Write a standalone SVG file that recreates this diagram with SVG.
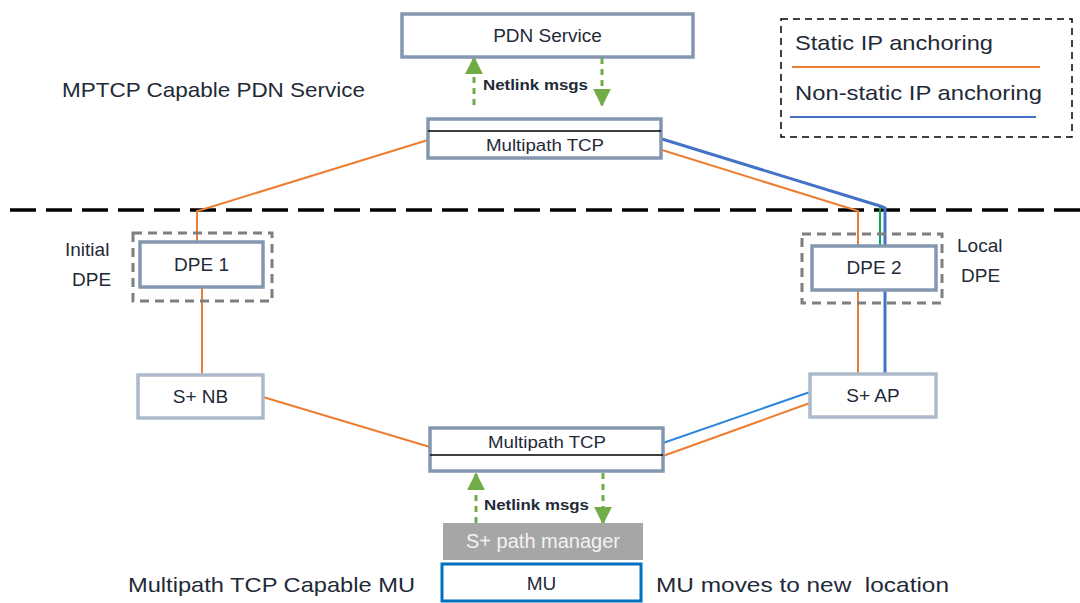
<svg xmlns="http://www.w3.org/2000/svg" width="1080" height="603" viewBox="0 0 1080 603">
<style>
text{font-family:"Liberation Sans",Arial,sans-serif;fill:#1f2a38}
.node{fill:#fff;stroke:#8497b0;stroke-width:3.5}
.light{fill:#fff;stroke:#adb9ca;stroke-width:3.5}
.dash{fill:none;stroke:#7f7f7f;stroke-width:3;stroke-dasharray:9 6}
.or{stroke:#ed7d31;stroke-width:2;fill:none}
.bl{stroke:#4472c4;stroke-width:3;fill:none}
.bl2{stroke:#2e86de;stroke-width:2;fill:none}
.gr{stroke:#70ad47;stroke-width:3;stroke-dasharray:6 5;fill:none}
.lbl{font-size:19px}
.big{font-size:21px}
.small{font-size:15px;font-weight:bold}
.mp{font-size:16px}
</style>
<defs>
<marker id="ah" viewBox="0 0 10 10" refX="9" refY="5" markerWidth="6" markerHeight="6" orient="auto" markerUnits="strokeWidth">
<path d="M0,0 L10,5 L0,10 Z" fill="#70ad47"/>
</marker>
</defs>
<rect width="1080" height="603" fill="#fff"/>

<g id="connectors">
<line x1="10" y1="210" x2="1080" y2="210" stroke="#000" stroke-width="3.5" stroke-dasharray="26 10"/>
<polyline class="or" points="197,242 197,211 201,210 428,140"/>
<line class="or" x1="202" y1="287" x2="202" y2="375"/>
<line class="or" x1="263" y1="397" x2="430" y2="447"/>
<polyline class="or" points="662,150 855,210 858,211 858,374"/>
<polyline class="bl" points="662,139 880,206 885,208 885,374"/>
<line x1="880" y1="207" x2="880" y2="246" stroke="#00b050" stroke-width="2"/>
<line class="bl2" x1="663" y1="443" x2="810" y2="392"/>
<line class="or" x1="663" y1="456" x2="810" y2="403"/>
<line class="gr" x1="474" y1="105" x2="474" y2="58" marker-end="url(#ah)"/>
<line class="gr" x1="602" y1="58" x2="602" y2="105" marker-end="url(#ah)"/>
<line class="gr" x1="476" y1="523" x2="476" y2="474" marker-end="url(#ah)"/>
<line class="gr" x1="603" y1="473" x2="603" y2="523" marker-end="url(#ah)"/>
<text class="small" x="483" y="90" textLength="105" lengthAdjust="spacingAndGlyphs">Netlink msgs</text>
<text class="small" x="484" y="510" textLength="105" lengthAdjust="spacingAndGlyphs">Netlink msgs</text>
</g>

<g id="pdn-service">
<rect class="node" x="402" y="14" width="291" height="43"/>
<text class="lbl" x="547.5" y="42" text-anchor="middle">PDN Service</text>
</g>

<g id="mptcp-top">
<rect class="node" x="428" y="119" width="233" height="39"/>
<line x1="428" y1="131" x2="661" y2="131" stroke="#000" stroke-width="1.5"/>
<text class="mp" x="486" y="151" textLength="118" lengthAdjust="spacingAndGlyphs">Multipath TCP</text>
</g>

<g id="dpe1">
<rect class="dash" x="133" y="233" width="139" height="68"/>
<rect class="node" x="140" y="242" width="123" height="45"/>
<text class="lbl" x="201.5" y="271" text-anchor="middle">DPE 1</text>
</g>

<g id="dpe2">
<rect class="dash" x="802" y="234" width="140" height="69"/>
<rect class="node" x="812" y="246" width="124" height="44"/>
<text class="lbl" x="874" y="274" text-anchor="middle">DPE 2</text>
</g>

<g id="snb">
<rect class="light" x="138" y="375" width="125" height="43"/>
<text class="lbl" x="200.5" y="403" text-anchor="middle">S+ NB</text>
</g>

<g id="sap">
<rect class="light" x="810" y="374" width="126" height="43"/>
<text class="lbl" x="873" y="402" text-anchor="middle">S+ AP</text>
</g>

<g id="mptcp-bottom">
<rect class="node" x="430" y="428" width="233" height="43"/>
<line x1="430" y1="455" x2="663" y2="455" stroke="#000" stroke-width="1.5"/>
<text class="mp" x="488" y="448" textLength="118" lengthAdjust="spacingAndGlyphs">Multipath TCP</text>
</g>

<g id="path-manager">
<rect x="443" y="523" width="200" height="37" fill="#a6a6a6"/>
<text x="543" y="548" text-anchor="middle" style="font-size:20px;fill:#f2f2f2">S+ path manager</text>
</g>

<g id="mu">
<rect x="442" y="564" width="199" height="37" fill="#fff" stroke="#0070c0" stroke-width="3"/>
<text class="lbl" x="541.5" y="590" text-anchor="middle">MU</text>
</g>

<g id="legend">
<rect x="781" y="19" width="291" height="118" fill="none" stroke="#000" stroke-width="1.5" stroke-dasharray="7 5"/>
<text class="big" x="795" y="50" textLength="198" lengthAdjust="spacingAndGlyphs">Static IP anchoring</text>
<line x1="792" y1="67" x2="1040" y2="67" stroke="#ed7d31" stroke-width="2"/>
<text class="big" x="795" y="100" textLength="247" lengthAdjust="spacingAndGlyphs">Non-static IP anchoring</text>
<line x1="790" y1="117" x2="1036" y2="117" stroke="#4472c4" stroke-width="2"/>
</g>

<g id="labels">
<text class="big" x="62" y="97" textLength="303" lengthAdjust="spacingAndGlyphs">MPTCP Capable PDN Service</text>
<text class="lbl" x="65" y="256">Initial</text>
<text class="lbl" x="72" y="286">DPE</text>
<text class="lbl" x="957" y="252">Local</text>
<text class="lbl" x="961" y="282">DPE</text>
<text class="big" x="128" y="592" textLength="287" lengthAdjust="spacingAndGlyphs">Multipath TCP Capable MU</text>
<text class="big" x="656" y="592" textLength="293" lengthAdjust="spacingAndGlyphs" style="white-space:pre">MU moves to new  location</text>
</g>
</svg>
